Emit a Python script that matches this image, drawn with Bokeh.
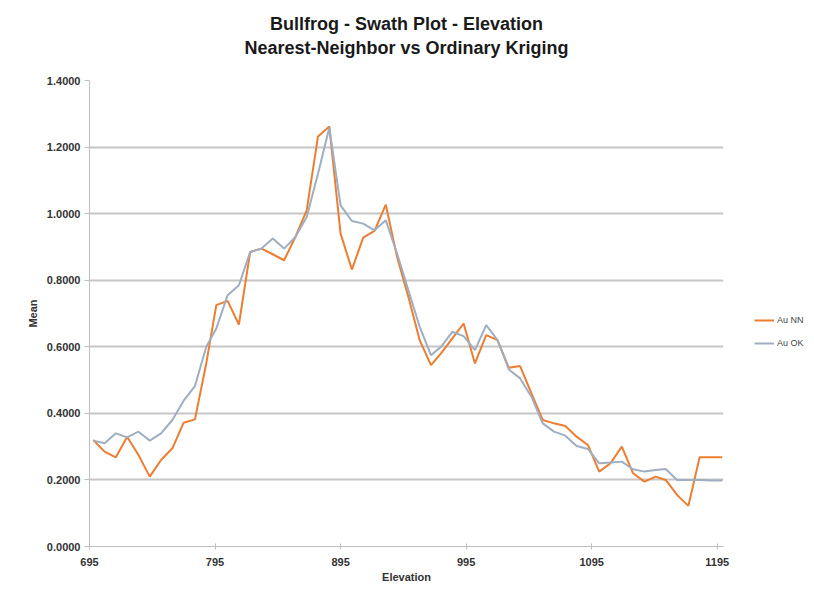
from bokeh.plotting import figure
from bokeh.models import Range1d, FixedTicker, NumeralTickFormatter, Title, Legend, LegendItem
from bokeh.embed import file_html
from bokeh.resources import INLINE

# ---- data ----
ELEVATION = [698, 707, 716, 725, 734, 743, 752, 761, 770, 779, 788, 796, 805, 814,
             823, 832, 841, 850, 859, 868, 877, 886, 895, 904, 913, 922, 931, 940,
             949, 958, 967, 975, 984, 993, 1002, 1011, 1020, 1029, 1038, 1047, 1056,
             1065, 1074, 1083, 1092, 1101, 1110, 1119, 1128, 1137, 1146, 1154, 1163,
             1172, 1181, 1190, 1199]

AU_NN = [0.320, 0.285, 0.268, 0.330, 0.275, 0.210, 0.260, 0.295, 0.372, 0.382,
         0.550, 0.725, 0.738, 0.667, 0.885, 0.895, 0.878, 0.860, 0.930, 1.010,
         1.232, 1.262, 0.940, 0.832, 0.928, 0.948, 1.027, 0.870, 0.750, 0.620,
         0.545, 0.580, 0.625, 0.670, 0.550, 0.635, 0.620, 0.537, 0.542, 0.460,
         0.380, 0.370, 0.362, 0.330, 0.305, 0.225, 0.250, 0.300, 0.220, 0.195,
         0.210, 0.200, 0.155, 0.122, 0.268, 0.268, 0.268]

AU_OK = [0.318, 0.310, 0.340, 0.328, 0.345, 0.318, 0.340, 0.380, 0.438, 0.482,
         0.600, 0.655, 0.755, 0.785, 0.885, 0.895, 0.925, 0.895, 0.930, 0.990,
         1.120, 1.258, 1.025, 0.978, 0.970, 0.950, 0.980, 0.880, 0.770, 0.660,
         0.575, 0.600, 0.645, 0.632, 0.590, 0.665, 0.620, 0.532, 0.505, 0.450,
         0.370, 0.345, 0.333, 0.302, 0.293, 0.250, 0.252, 0.255, 0.232, 0.225,
         0.230, 0.233, 0.200, 0.200, 0.200, 0.198, 0.198]

X_TICKS = [695, 795, 895, 995, 1095, 1195]
Y_TICKS = [0.0, 0.2, 0.4, 0.6, 0.8, 1.0, 1.2, 1.4]

TITLE_1 = "Bullfrog - Swath Plot - Elevation"
TITLE_2 = "Nearest-Neighbor vs Ordinary Kriging"

ORANGE = "#EC7D31"
GREYBLUE = "#9FAEC0"
FONT = "Liberation Sans"

p = figure(width=812, height=597, output_backend="svg", toolbar_location=None,
           x_range=Range1d(695, 1200), y_range=Range1d(0, 1.4),
           frame_width=634, frame_height=466,
           min_border_left=89, min_border_right=0, min_border_top=80, min_border_bottom=51)
p.outline_line_color = None
p.background_fill_color = "white"
p.border_fill_color = "white"

r1 = p.line(ELEVATION, AU_NN, line_color=ORANGE, line_width=2)
r2 = p.line(ELEVATION, AU_OK, line_color=GREYBLUE, line_width=2)

# axes
p.xaxis.ticker = FixedTicker(ticks=X_TICKS)
p.yaxis.ticker = FixedTicker(ticks=Y_TICKS)
p.yaxis.formatter = NumeralTickFormatter(format="0.0000")
for ax in (p.xaxis[0], p.yaxis[0]):
    ax.axis_line_color = "#BFBFBF"
    ax.axis_line_width = 1
    ax.major_tick_line_color = "#BFBFBF"
    ax.minor_tick_line_color = None
    ax.major_label_text_font = FONT
    ax.major_label_text_font_style = "bold"
    ax.major_label_text_font_size = "11px"
    ax.major_label_text_color = "#333333"
    ax.axis_label_text_font = FONT
    ax.axis_label_text_font_style = "bold"
    ax.axis_label_text_font_size = "11px"
    ax.axis_label_text_color = "#333333"
p.xaxis.major_tick_in = 3
p.xaxis.major_tick_out = 3
p.yaxis.major_tick_in = 0
p.yaxis.major_tick_out = 5
p.xaxis.axis_label = "Elevation"
p.yaxis.axis_label = "Mean"
p.xaxis.major_label_standoff = 8
p.xaxis.axis_label_standoff = 2
p.yaxis.major_label_standoff = 4
p.yaxis.axis_label_standoff = 5

p.xgrid.grid_line_color = None
p.ygrid.ticker = FixedTicker(ticks=Y_TICKS)
p.ygrid.grid_line_color = "#C6C6C6"
p.ygrid.grid_line_width = 2

# titles: spacer next to the frame, then line 2, then line 1 (outermost)
p.title.text = ""
p.add_layout(Title(text=" ", text_font_size="10px", standoff=6), "above")
p.add_layout(Title(text=TITLE_2, align="center", text_font=FONT, text_font_style="bold",
                   text_font_size="18px", text_color="#1a1a1a", standoff=4,
                   vertical_align="top"), "above")
p.add_layout(Title(text=TITLE_1, align="center", text_font=FONT, text_font_style="bold",
                   text_font_size="18px", text_color="#1a1a1a", standoff=4,
                   vertical_align="bottom"), "above")

legend = Legend(items=[LegendItem(label="Au NN", renderers=[r1]),
                       LegendItem(label="Au OK", renderers=[r2])],
                location=(31, 193), border_line_color=None, background_fill_alpha=0,
                label_text_font=FONT, label_text_font_size="9px", label_text_color="#444444",
                glyph_width=20, glyph_height=20, label_height=20, spacing=3,
                padding=0, margin=0, label_standoff=3)
p.add_layout(legend, "right")
p.min_border_right = 89

open("out.html", "w").write(file_html(p, INLINE))
